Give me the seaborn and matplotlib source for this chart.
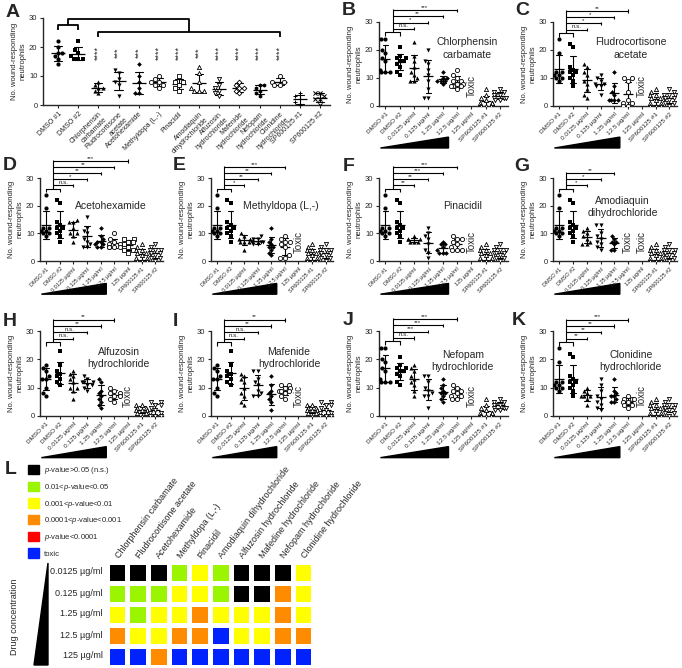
import numpy as np
import pandas as pd
import matplotlib
matplotlib.use('Agg')
import matplotlib.pyplot as plt
import matplotlib.transforms as mtransforms
from matplotlib.patches import Patch, Polygon
from matplotlib.colors import ListedColormap
import seaborn as sns

sns.set_style('ticks')
plt.rcParams['font.family'] = ['Liberation Sans', 'DejaVu Sans']
plt.rcParams['mathtext.fontset'] = 'custom'
plt.rcParams['mathtext.rm'] = 'Liberation Sans'
plt.rcParams['mathtext.it'] = 'Liberation Sans:italic'

# ---------------- data ----------------
# panel A: screening (one group per compound)
a_labels = ['DMSO #1', 'DMSO #2', 'Chlorphensin\ncarbamate', 'Fludrocortisone\nacetate',
            'Acetohexamide', 'Methyldopa (L,-)', 'Pinacidil', 'Amodiaquin\ndihydrochloride',
            'Alfuzosin\nhydrochloride', 'Mafenide\nhydrochloride', 'Nefopam\nhydrochloride',
            'Clonidine\nhydrochloride', 'SP600125 #1', 'SP600125 #2']
a_values = [
    [22, 20, 18, 18, 17, 16, 14],
    [22, 19, 18, 17, 16, 16, 16],
    [8, 7, 6, 6, 5, 4],
    [12, 11, 9, 8, 7, 3],
    [14, 10, 8, 6, 4, 4],
    [10, 9, 8, 8, 7, 7, 6],
    [10, 8, 8, 7, 6, 5],
    [13, 11, 8, 6, 5, 5, 5],
    [9, 7, 6, 5, 4, 3],
    [8, 7, 6, 6, 5, 4],
    [7, 7, 6, 5, 4, 3],
    [10, 8, 8, 7, 7],
    [4, 3, 2, 1, 0],
    [4, 4, 3, 2, 2, 0],
]
a_sig = ['****', '***', '***', '****', '****', '***', '****', '****', '****', '****']

# panels B-K: dose response
conc_labels = ['DMSO #1', 'DMSO #2', '0.0125 µg/ml', '0.125 µg/ml', '1.25 µg/ml',
               '12.5 µg/ml', '125 µg/ml', 'SP600125 #1', 'SP600125 #2']

# control groups (shared between panels imaged on the same day)
dmso1_bj = [24, 24, 20, 19, 17, 16, 13, 12, 12, 12]
dmso2_bj = [21, 18, 17, 17, 16, 16, 15, 14, 12, 11]
sp1_bj = [6, 4, 3, 2, 1, 1, 1, 0, 0, 0, 0]
sp2_bj = [6, 5, 5, 4, 4, 4, 3, 3, 3, 2, 2]
dmso1_c = [24, 19, 12, 12, 11, 11, 10, 10, 9]
dmso2_c = [22, 21, 14, 13, 12, 12, 11, 10, 9, 7]
sp1_c = [6, 5, 4, 4, 3, 3, 2, 1, 1, 0, 0, 0]
sp2_c = [6, 5, 4, 4, 4, 3, 3, 3, 2, 1, 1, 0]
dmso1_hi = [18, 17, 16, 14, 13, 13, 10, 8, 7]
dmso2_hi = [23, 18, 16, 15, 14, 13, 12, 11]
sp1_hi = [4, 4, 3, 3, 2, 2, 2, 1, 1, 0]
sp2_hi = [5, 5, 4, 4, 3, 2, 1, 1, 0, 0, 0]

# drug groups: 0.0125, 0.125, 1.25, 12.5, 125 ug/ml (None = toxic)
chlorphensin = [[23, 18, 16, 14, 12, 11, 10, 9, 9], [20, 16, 15, 13, 11, 9, 6, 3, 3],
                [12, 10, 10, 9, 9, 9, 8], [13, 11, 10, 9, 9, 8, 8, 7, 7, 7, 6], None]
fludrocortisone = [[15, 14, 12, 11, 9, 8, 6, 4, 3], [11, 10, 9, 8, 8, 7, 7, 4],
                   [12, 7, 5, 4, 2, 2, 2, 2], [10, 10, 9, 5, 2, 1, 1, 0, 0], None]
acetohexamide = [[15, 14, 14, 12, 10, 10, 9, 7], [16, 12, 11, 10, 8, 7, 6, 5, 5],
                 [12, 9, 8, 7, 7, 6, 6, 5, 5], [10, 8, 7, 6, 6, 5, 5, 5, 5],
                 [8, 8, 7, 7, 6, 5, 4, 4, 3]]
methyldopa = [[10, 9, 8, 8, 7, 7, 7, 4], [9, 8, 8, 7, 7, 7, 7, 6, 6],
              [12, 8, 7, 6, 5, 5, 4, 3, 2], [9, 8, 7, 7, 6, 5, 2, 1, 1], None]
pinacidil = [[9, 8, 8, 8, 7, 7, 7], [12, 10, 9, 8, 6, 4, 3, 1],
             [7, 6, 6, 5, 4, 3, 3, 3], [9, 8, 8, 7, 6, 5, 4, 4, 4], None]
amodiaquin = [[12, 11, 10, 9, 8, 7, 6, 6], [13, 13, 10, 9, 8, 7, 6, 5, 4],
              [9, 8, 7, 7, 6, 4, 4], None, None]
alfuzosin = [[16, 15, 14, 13, 12, 10, 10, 9, 6], [14, 13, 12, 12, 12, 11, 11, 10, 9],
             [13, 12, 9, 8, 7, 6, 5, 4, 3], [10, 9, 8, 8, 7, 7, 6, 5], None]
mafenide = [[15, 14, 13, 12, 10, 8, 7, 5, 4], [16, 16, 13, 12, 11, 9, 8, 7, 7],
            [14, 11, 9, 8, 7, 6, 5, 2], [11, 11, 10, 10, 9, 9, 9, 8, 7, 6], None]
nefopam = [[18, 17, 16, 14, 13, 12, 11, 9, 7], [14, 14, 12, 10, 9, 8, 7, 7, 3],
           [13, 11, 10, 9, 8, 8, 7, 6, 5], [11, 10, 9, 9, 8, 7, 7, 6, 6], None]
clonidine = [[10, 9, 8, 7, 7, 7, 6, 4], [13, 11, 9, 7, 6, 5, 4, 3, 2],
             [13, 9, 8, 7, 7, 6, 5, 5], [7, 6, 6, 6, 5, 5, 4, 4, 3], None]

# significance vs DMSO for each concentration
chlorphensin_sig = ['n.s.', '*', '**', '***', 'toxic']
fludrocortisone_sig = ['n.s.', '*', '*', '**', 'toxic']
acetohexamide_sig = ['n.s.', '*', '**', '**', '***']
methyldopa_sig = ['*', '**', '**', '***', 'toxic']
pinacidil_sig = ['**', '**', '***', '***', 'toxic']
amodiaquin_sig = ['*', '*', '**', 'toxic', 'toxic']
alfuzosin_sig = ['n.s.', 'n.s.', '**', '**', 'toxic']
mafenide_sig = ['n.s.', 'n.s.', '**', '**', 'toxic']
nefopam_sig = ['n.s.', '***', '***', '***', 'toxic']
clonidine_sig = ['**', '**', '**', '***', 'toxic']

# panel L
heat_drugs = ['Chlorphensin carbamate', 'Fludrocortisone acetate', 'Acetohexamide',
              'Methyldopa (L,-)', 'Pinacidil', 'Amodiaquin dihydrochloride',
              'Alfuzosin hydrochloride', 'Mafedine hydrochloride', 'Nefopam hydrochloride',
              'Clonidine hydrochloride']
heat_rows = ['0.0125 µg/ml', '0.125 µg/ml', '1.25 µg/ml', '12.5 µg/ml', '125 µg/ml']
sig_levels = ['n.s.', '*', '**', '***', '****', 'toxic']
sig_colors = ['#000000', '#9cf500', '#ffff00', '#ff8c00', '#ff0000', '#0022ff']
legend_labels = ['$p$-value>0.05 (n.s.)', '0.01<$p$-value<0.05', '0.001<$p$-value<0.01',
                 '0.0001<$p$-value<0.001', '$p$-value<0.0001', 'toxic']

# ---------------- figure ----------------
W, H = 682, 668
fig = plt.figure(figsize=(W / 100, H / 100), dpi=100)


def add_ax(l, r, t, b):
    return fig.add_axes([l / W, 1 - b / H, (r - l) / W, (b - t) / H])


def scatter_panel(ax, groups, labels, markers, hollow, mean_size):
    rows = [(labels[i], v) for i, g in enumerate(groups) if g is not None for v in g]
    long = pd.DataFrame(rows, columns=['group', 'n'])
    for i, g in enumerate(groups):
        if g is None:
            continue
        sub = long[long['group'] == labels[i]]
        mk = markers[i]
        if mk in ('+', 'x'):
            kw = dict(color='black', linewidth=0.7)
        elif hollow[i]:
            kw = dict(color='white', edgecolor='black', linewidth=0.6)
        else:
            kw = dict(color='black', edgecolor='black', linewidth=0)
        sns.swarmplot(data=sub, x='group', y='n', order=labels, marker=mk,
                      size=2.4 if mk == 'D' else 3, ax=ax, warn_thresh=1, **kw)
    sns.pointplot(data=long, x='group', y='n', order=labels, errorbar='sd', capsize=0.4,
                  color='black', marker='_', linestyle='none', markersize=mean_size,
                  markeredgewidth=0.9, err_kws={'linewidth': 0.8}, ax=ax)


def style_axes(ax, labels, fs, xlim):
    ax.set_xlim(*xlim)
    ax.set_ylim(0, 30)
    ax.set_yticks([0, 10, 20, 30])
    ax.set_xticks(range(len(labels)))
    ax.set_xticklabels(labels, rotation=45, ha='right', rotation_mode='anchor', fontsize=fs)
    ax.tick_params(axis='x', length=2.5, width=0.8, pad=1.5)
    ax.tick_params(axis='y', length=2.5, width=0.8, pad=1.5, labelsize=5.5)
    ax.set_xlabel('')
    ax.set_ylabel('No. wound-responding\nneutrophils', fontsize=5.5, labelpad=2)
    sns.despine(ax=ax)
    for s in ['left', 'bottom']:
        ax.spines[s].set_linewidth(1.0)


def line(ax, xs, ys, lw=0.8):
    ax.plot(xs, ys, color='black', lw=lw, clip_on=False, solid_capstyle='butt')


def sig_brackets(ax, sig, base, step):
    line(ax, [0, 0, 1, 1], [base - 1.2, base, base, base - 1.2])
    idx = [i for i, s in enumerate(sig) if s != 'toxic']
    levels = [base + 1.3 + step * k for k in range(len(idx))]
    line(ax, [0.5, 0.5], [base, levels[-1] + 0.5])
    for k, i in enumerate(idx):
        x = i + 2
        y = levels[k]
        line(ax, [0.5, x], [y, y])
        line(ax, [x, x], [y - 0.6, y + 0.6])
        ax.text((0.5 + x) / 2, y + 0.15, sig[i], ha='center', va='bottom', fontsize=4.5)


def conc_triangle(ax, y0, y1):
    tr = mtransforms.blended_transform_factory(ax.transData, ax.transAxes)
    ax.fill([-0.35, 4.4, 4.4], [y1, y0, y1], color='black', transform=tr, clip_on=False,
            zorder=0)


# panel A
axA = add_ax(43, 330, 18, 105)
a_markers = ['o', 's', '^', 'v', 'D', 'o', 's', '^', 'v', 'D', 'h', 'o', '+', 'x']
a_hollow = [False] * 5 + [True] * 5 + [False, True, False, False]
scatter_panel(axA, a_values, a_labels, a_markers, a_hollow, 10)
style_axes(axA, a_labels, 5.0, (-0.75, 13.5))
for i, s in enumerate(a_sig):
    axA.text(i + 2, 18, s, rotation=90, ha='center', va='center', fontsize=6.5)
line(axA, [0, 0, 1, 1], [26, 27.6, 27.6, 26], 1.3)
line(axA, [0.5, 0.5, 6.5, 6.5], [27.6, 29.7, 29.7, 25.2], 1.3)
line(axA, [2, 2, 11, 11], [23.4, 25.2, 25.2, 23.4], 1.3)

ctrl_bj = (dmso1_bj, dmso2_bj, sp1_bj, sp2_bj)
ctrl_c = (dmso1_c, dmso2_c, sp1_c, sp2_c)
ctrl_hi = (dmso1_hi, dmso2_hi, sp1_hi, sp2_hi)

# letter, title, drug, sig, controls, box(l, r, t, b), title pos, row
panels = [
    ('B', 'Chlorphensin\ncarbamate', chlorphensin, chlorphensin_sig, ctrl_bj, (379, 508, 22, 106), (5.7, 20.5), 0),
    ('C', 'Fludrocortisone\nacetate', fludrocortisone, fludrocortisone_sig, ctrl_c, (553, 677, 22, 106), (5.2, 20.5), 0),
    ('D', 'Acetohexamide', acetohexamide, acetohexamide_sig, ctrl_c, (40, 163, 178, 261), (4.7, 20), 1),
    ('E', 'Methyldopa (L,-)', methyldopa, methyldopa_sig, ctrl_c, (211, 333, 178, 261), (4.7, 20), 1),
    ('F', 'Pinacidil', pinacidil, pinacidil_sig, ctrl_c, (379, 508, 178, 261), (5.4, 20), 1),
    ('G', 'Amodiaquin\ndihydrochloride', amodiaquin, amodiaquin_sig, ctrl_c, (553, 677, 178, 261), (4.6, 19.5), 1),
    ('H', 'Alfuzosin\nhydrochloride', alfuzosin, alfuzosin_sig, ctrl_hi, (40, 163, 331, 416), (5.3, 20.5), 2),
    ('I', 'Mafenide\nhydrochloride', mafenide, mafenide_sig, ctrl_hi, (211, 333, 331, 416), (5.3, 20.5), 2),
    ('J', 'Nefopam\nhydrochloride', nefopam, nefopam_sig, ctrl_bj, (379, 508, 331, 416), (5.4, 19.5), 2),
    ('K', 'Clonidine\nhydrochloride', clonidine, clonidine_sig, ctrl_c, (553, 677, 331, 416), (5.2, 19.5), 2),
]
c_markers = ['o', 's', '^', 'v', 'D', 'o', 's', '^', 'v']
c_hollow = [False] * 5 + [True] * 4
tri_y = [(-0.37, -0.50), (-0.27, -0.40), (-0.36, -0.49)]
label_fs = [4.6, 4.0, 4.6]

for letter, title, drug, sig, ctrl, box, tpos, row in panels:
    ax = add_ax(*box)
    groups = [ctrl[0], ctrl[1]] + list(drug) + [ctrl[2], ctrl[3]]
    scatter_panel(ax, groups, conc_labels, c_markers, c_hollow, 7.5)
    style_axes(ax, conc_labels, label_fs[row], (-0.45, 8.55))
    for i, g in enumerate(groups):
        if g is None:
            ax.text(i, 7, 'Toxic', rotation=90, ha='center', va='center', fontsize=7)
    ax.text(tpos[0], tpos[1], title, ha='center', va='center', fontsize=7.5, linespacing=1.3)
    base = 26.3 if ctrl is ctrl_bj else 26
    sig_brackets(ax, sig, base, 2.2)
    conc_triangle(ax, *tri_y[row])

# panel letters
letters = [('A', 6, 4), ('B', 342, 2), ('C', 515, 2), ('D', 3, 157), ('E', 173, 157),
           ('F', 343, 158), ('G', 514, 158), ('H', 3, 313), ('I', 173, 313),
           ('J', 343, 312), ('K', 512, 312), ('L', 5, 461)]
for t, x, y in letters:
    fig.text(x / W, 1 - y / H, t, fontsize=14, fontweight='bold', ha='left', va='top')

# panel L heatmap
codes = np.array([[sig_levels.index(s[r]) for s in
                   [chlorphensin_sig, fludrocortisone_sig, acetohexamide_sig, methyldopa_sig,
                    pinacidil_sig, amodiaquin_sig, alfuzosin_sig, mafenide_sig, nefopam_sig,
                    clonidine_sig]] for r in range(len(heat_rows))])
heat_df = pd.DataFrame(codes, index=heat_rows, columns=heat_drugs)
axL = add_ax(106.7, 313.3, 561.5, 666.5)
sns.heatmap(heat_df, cmap=ListedColormap(sig_colors), vmin=-0.5, vmax=5.5, cbar=False,
            linewidths=3.6, linecolor='white', ax=axL)
axL.xaxis.tick_top()
axL.set_xticklabels(heat_drugs, rotation=53, ha='left', va='center', rotation_mode='anchor',
                    fontsize=6.5)
axL.set_yticklabels(heat_rows, rotation=0, fontsize=6.5)
axL.tick_params(length=0, pad=3)
axL.set_xlabel('')
axL.set_ylabel('')

handles = [Patch(facecolor=c, edgecolor=c) for c in sig_colors]
fig.legend(handles, legend_labels, loc='upper left', bbox_to_anchor=(28 / W, 1 - 465 / H),
           frameon=False, fontsize=5.5, handlelength=1.5, handleheight=1.5,
           labelspacing=0.72, handletextpad=0.6, borderpad=0, borderaxespad=0)

fig.text(15 / W, 1 - 617 / H, 'Drug concentration', rotation=90, ha='center', va='center',
         fontsize=6.5)
fig.add_artist(Polygon([[48 / W, 1 - 563 / H], [34 / W, 1 - 665 / H], [48 / W, 1 - 665 / H]],
                       closed=True, color='black', transform=fig.transFigure))

fig.savefig('out.png', dpi=100)
